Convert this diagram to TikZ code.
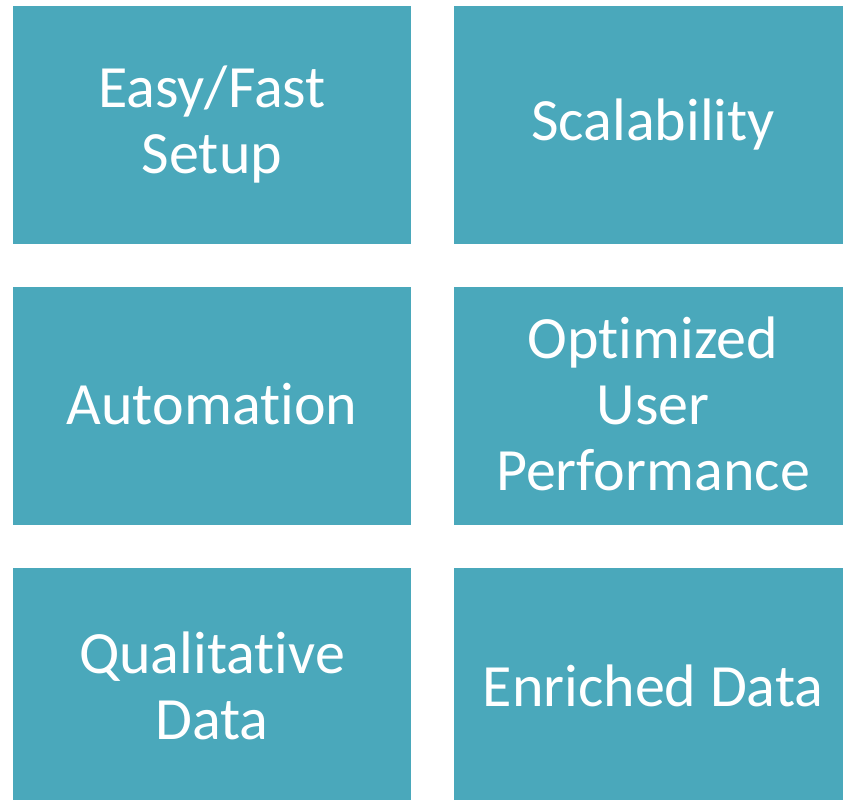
\documentclass[tikz,border=0pt]{standalone}
\usepackage{fontspec}
\setmainfont{Carlito}[Ligatures={NoCommon,NoRequired,NoContextual}]
\definecolor{tile}{RGB}{74,168,187}
\begin{document}
\begin{tikzpicture}[x=1pt,y=-1pt,
  tile/.style={fill=tile,draw=none},
  lbl/.style={text=white,align=center,font=\fontsize{60}{66}\selectfont,inner sep=0pt}]
\useasboundingbox (0,0) rectangle (843,800);
\fill[white] (0,0) rectangle (843,800);
\begin{scope}
\clip (0,0) rectangle (843,800);
\path[tile] (13,6) rectangle (411,244);
\path[tile] (454,6) rectangle (852,244);
\path[tile] (13,287) rectangle (411,525);
\path[tile] (454,287) rectangle (852,525);
\path[tile] (13,568) rectangle (411,806);
\path[tile] (454,568) rectangle (852,806);
\end{scope}
\node[lbl] (a) at (212,125) {Easy/Fast\\Setup};
\node[lbl] (b) at (653,125) {Scalability};
\node[lbl] (c) at (212,404) {Automation};
\node[lbl] (d) at (653,404) {Optimized\\User\\Performance};
\node[lbl] (e) at (212,686) {Qualitative\\Data};
\node[lbl] (f) at (653,686) {Enriched Data};
\end{tikzpicture}
\end{document}
